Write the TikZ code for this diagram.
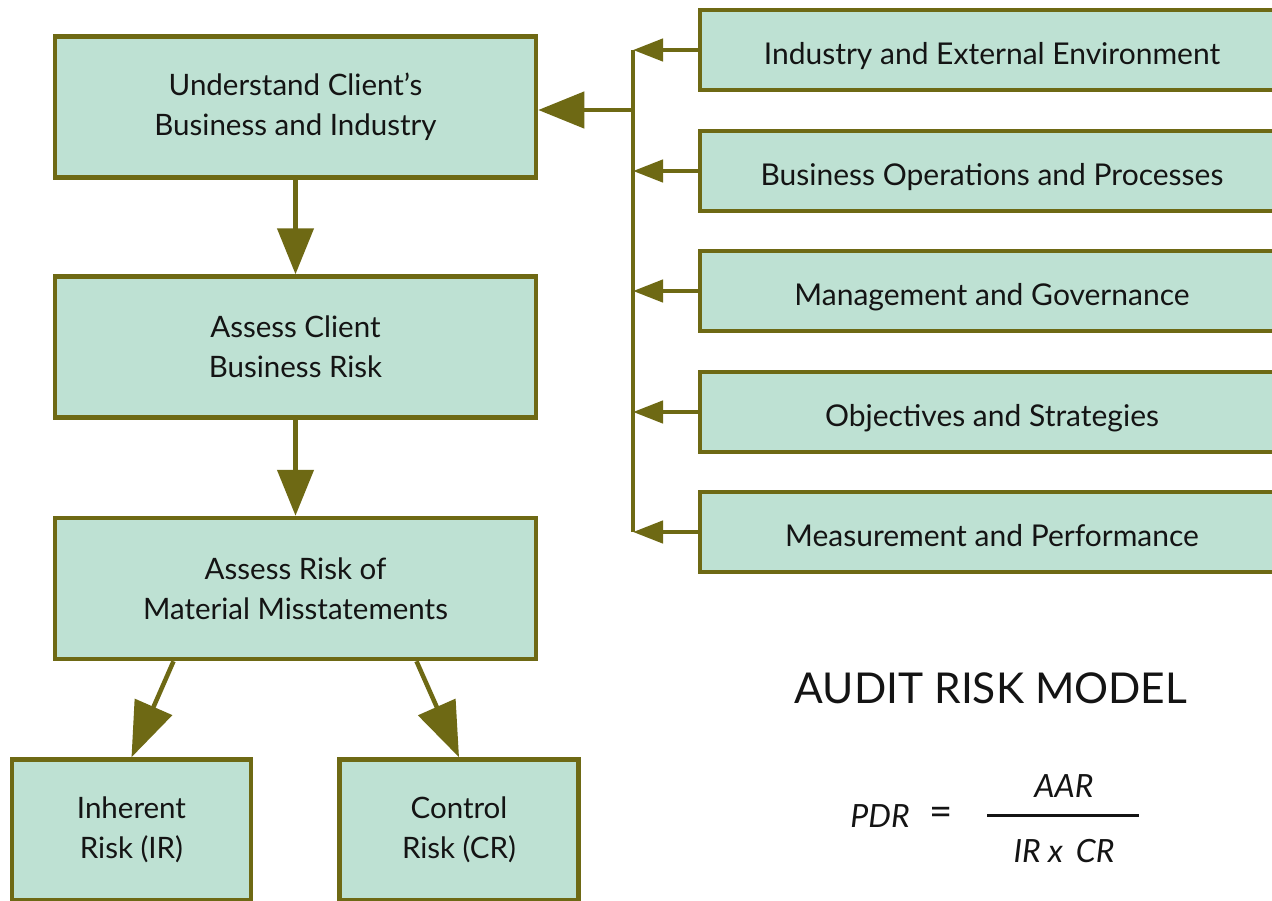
\documentclass[tikz,border=0pt]{standalone}
\usepackage{fontspec}
\setmainfont{Lato}
\usetikzlibrary{arrows.meta}
\definecolor{olive}{HTML}{6E6914}
\definecolor{mint}{HTML}{BEE1D3}
\definecolor{ink}{HTML}{141414}
\begin{document}
\begin{tikzpicture}[x=1pt,y=-1pt,
  lbox/.style={draw=olive, fill=mint, line width=4.5pt, minimum width=481pt, minimum height=141pt, inner sep=0pt, align=center, text=ink, font=\fontsize{29.5}{40}\selectfont},
  rbox/.style={draw=olive, fill=mint, line width=4.5pt, minimum width=584pt, minimum height=80pt, inner sep=0pt, text height=34pt, text depth=6pt, align=center, text=ink, font=\fontsize{30}{32}\selectfont},
  sbox/.style={draw=olive, fill=mint, line width=4.5pt, minimum width=239pt, minimum height=141pt, inner sep=0pt, align=center, text=ink, font=\fontsize{29.5}{40}\selectfont},
  bigarrow/.style={draw=olive, line width=4.5pt, -{Triangle[length=46pt,width=36pt]}, color=olive},
  diagarrow/.style={draw=olive, line width=4.5pt, -{Triangle[length=55pt,width=40pt]}, color=olive},
  smallarrow/.style={draw=olive, line width=4.5pt, -{Triangle[length=30pt,width=22pt]}, color=olive},
  busline/.style={draw=olive, line width=4.5pt},
  title/.style={text=ink, font=\fontsize{42.5}{44}\selectfont, inner sep=0pt},
  formula/.style={text=ink, font=\itshape\fontsize{32}{34}\selectfont, inner sep=0pt}
]
\useasboundingbox (0,0) rectangle (1272,900);
\clip (0,0) rectangle (1272,900);
\fill[white] (0,0) rectangle (1272,900);

% left column
\node[lbox] (b1) at (295.5,107) {Understand Client’s\\Business and Industry};
\node[lbox] (b2) at (295.5,347) {Assess Client\\Business Risk};
\node[lbox] (b3) at (295.5,588.5) {Assess Risk of\\Material Misstatements};
\node[sbox] (ir) at (131.5,830) {Inherent\\Risk (IR)};
\node[sbox] (cr) at (459,830) {Control\\Risk (CR)};

% right column
\node[rbox] (r1) at (992,50) {Industry and External Environment};
\node[rbox] (r2) at (992,171) {Business Operations and Processes};
\node[rbox] (r3) at (992,291) {Management and Governance};
\node[rbox] (r4) at (992,412) {Objectives and Strategies};
\node[rbox] (r5) at (992,532) {Measurement and Performance};

\coordinate (bus) at (633,0);
\coordinate (ba) at ([yshift=-3pt]b1.east);

% vertical arrows
\draw[bigarrow] (b1.south) -- (b2.north);
\draw[bigarrow] (b2.south) -- (b3.north);
\draw[diagarrow] ([xshift=-122pt]b3.south) -- (ir.north);
\draw[diagarrow] ([xshift=121pt]b3.south) -- (cr.north);

% bus
\draw[busline] (r1.west -| bus) -- (r5.west -| bus);
\draw[smallarrow] (r1.west) -- (r1.west -| bus);
\draw[smallarrow] (r2.west) -- (r2.west -| bus);
\draw[smallarrow] (r3.west) -- (r3.west -| bus);
\draw[smallarrow] (r4.west) -- (r4.west -| bus);
\draw[smallarrow] (r5.west) -- (r5.west -| bus);
\draw[bigarrow] (bus |- ba) -- (ba);

% audit risk model
\node[title] (t) at (991,688) {AUDIT RISK MODEL};
\node[formula] (pdr) at (880,816) {PDR};
\node[formula] (eq) at (941,816) {\upshape\fontsize{40}{40}\selectfont =};
\coordinate (fl) at (987,815);
\coordinate (fr) at (1139,815);
\draw[line width=3pt, ink] (fl) -- (fr);
\node[formula, anchor=base] (aar) at (1064,797) {AAR};
\node[formula, anchor=base] (irc) at (1064,862) {IR x\, CR};
\end{tikzpicture}
\end{document}
